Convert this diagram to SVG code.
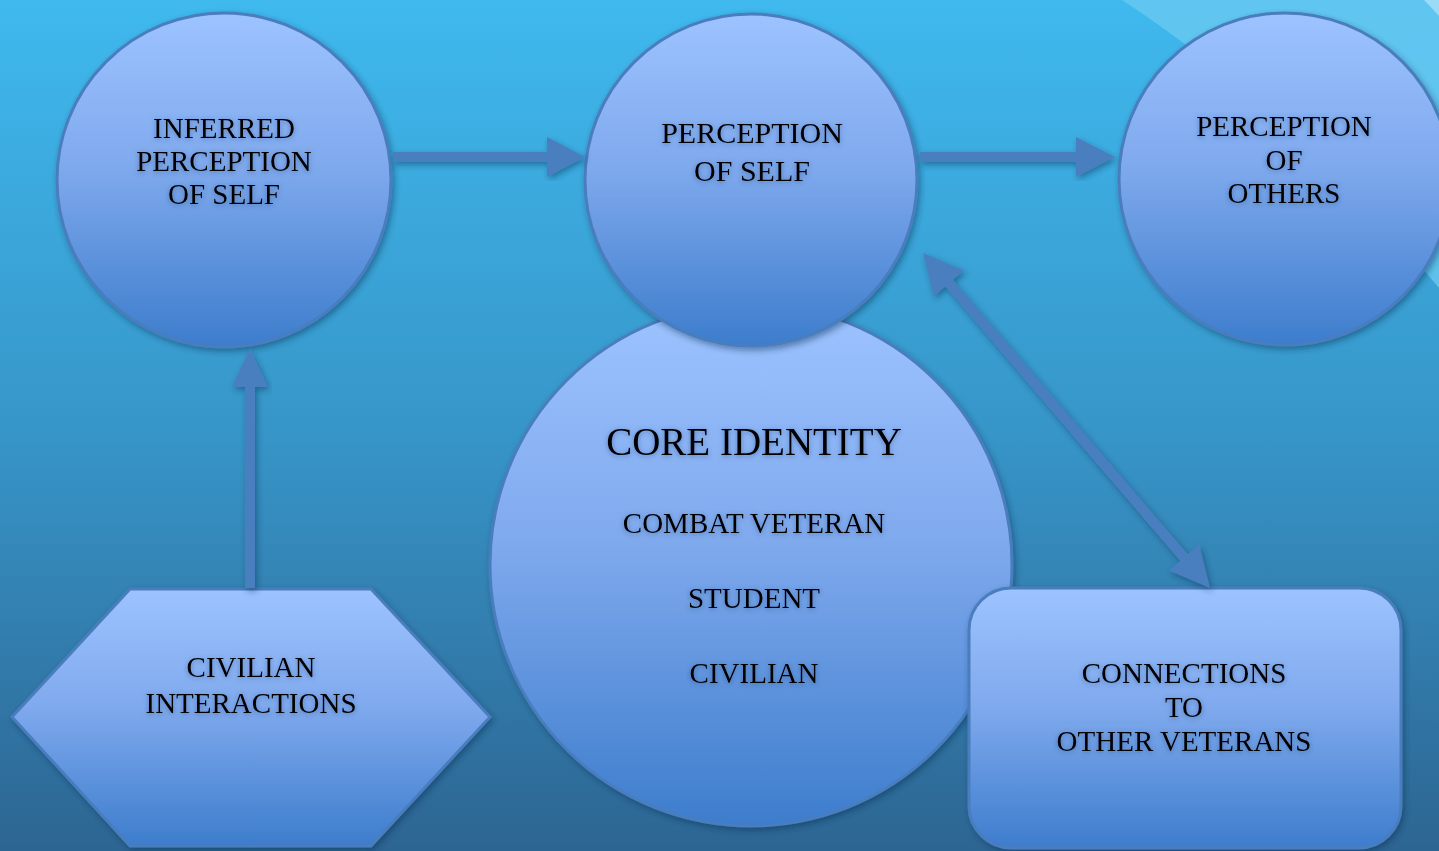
<svg xmlns="http://www.w3.org/2000/svg" width="1439" height="851" viewBox="0 0 1439 851">
<defs>
<linearGradient id="bg" x1="0" y1="0" x2="0" y2="1">
<stop offset="0" stop-color="#3fb9ee"/>
<stop offset="0.5" stop-color="#3796c9"/>
<stop offset="1" stop-color="#2d6592"/>
</linearGradient>
<linearGradient id="fill" x1="0" y1="0" x2="0" y2="1">
<stop offset="0" stop-color="#9dc3ff"/>
<stop offset="0.45" stop-color="#80aaee"/>
<stop offset="1" stop-color="#3d7dcc"/>
</linearGradient>
<filter id="sh" x="-10%" y="-10%" width="120%" height="120%">
<feDropShadow dx="2" dy="3" stdDeviation="3" flood-color="#0a2a50" flood-opacity="0.45"/>
</filter>
<filter id="tsh" x="-10%" y="-30%" width="120%" height="160%">
<feDropShadow dx="0" dy="1" stdDeviation="2.5" flood-color="#1a3a6a" flood-opacity="0.5"/>
</filter>
</defs>
<style>
.node{fill:url(#fill);stroke:#4a7dbd;stroke-width:3;filter:url(#sh)}
.arrow{fill:#4a7fbf;filter:url(#sh)}
.t{font-family:"Liberation Serif","Times New Roman",serif;font-size:29px;fill:#000;text-anchor:middle;filter:url(#tsh)}
.big{font-size:39px}
</style>
<rect x="0" y="0" width="1439" height="851" fill="url(#bg)"/>
<path d="M1122,0 Q1290,110 1439,288 L1439,0 Z" fill="#6ccbf1" opacity="0.75"/>
<path d="M1424,0 Q1432,8 1439,16 L1439,0 Z" fill="#9adcf7"/>

<g id="node-inferred">
<circle class="node" cx="224" cy="180" r="167"/>
<text class="t"><tspan x="224" y="138">INFERRED</tspan><tspan x="224" y="171">PERCEPTION</tspan><tspan x="224" y="204">OF SELF</tspan></text>
</g>
<g id="node-others">
<circle class="node" cx="1285" cy="179" r="166"/>
<text class="t"><tspan x="1284" y="136">PERCEPTION</tspan><tspan x="1284" y="170">OF</tspan><tspan x="1284" y="203">OTHERS</tspan></text>
</g>
<g id="node-core">
<circle class="node" cx="751" cy="565" r="261"/>
<text class="t big" x="754" y="455">CORE IDENTITY</text>
<text class="t" x="754" y="533">COMBAT VETERAN</text>
<text class="t" x="754" y="608">STUDENT</text>
<text class="t" x="754" y="683">CIVILIAN</text>
</g>
<g id="node-self">
<circle class="node" cx="751" cy="180" r="166"/>
<text class="t" style="font-size:30px"><tspan x="752" y="143">PERCEPTION</tspan><tspan x="752" y="181">OF SELF</tspan></text>
</g>
<g id="node-civilian">
<polygon class="node" points="130,589 371,589 490,717 371,846 130,846 12,717"/>
<text class="t"><tspan x="251" y="677">CIVILIAN</tspan><tspan x="251" y="713">INTERACTIONS</tspan></text>
</g>
<g id="node-connections">
<rect class="node" x="969" y="588" width="432" height="260" rx="42" ry="42"/>
<text class="t"><tspan x="1184" y="683">CONNECTIONS</tspan><tspan x="1184" y="717">TO</tspan><tspan x="1184" y="751">OTHER VETERANS</tspan></text>
</g>

<g id="connectors">
<polygon class="arrow" points="393,152 547,152 547,137 585,157 547,177 547,162 393,162"/>
<polygon class="arrow" points="920,152 1076,152 1076,137 1115,157 1076,177 1076,162 920,162"/>
<polygon class="arrow" points="245,588 245,387 232,387 250,349 268,387 255,387 255,588"/>
<polygon class="arrow" points="923,253 964.2,270.4 952.8,279.8 1187.8,554.3 1199.2,544.6 1210,588 1168.8,570.6 1180.2,560.9 945.2,286.5 933.8,296.4"/>
</g>
</svg>
